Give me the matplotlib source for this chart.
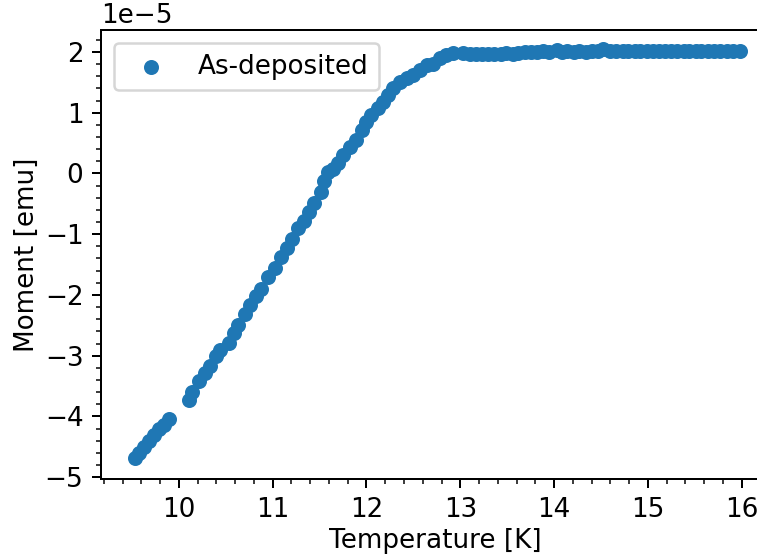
import numpy as np
import matplotlib
matplotlib.use("Agg")
import matplotlib.pyplot as plt

plt.rcParams["font.size"] = 10.5

# Moment vs temperature, as-deposited sample (moment in units of 1e-5 emu)
temperature = [
    9.53, 9.58, 9.63, 9.68, 9.74, 9.79, 9.84, 9.90,
    10.11, 10.14, 10.21, 10.28, 10.33, 10.40, 10.44, 10.53, 10.59, 10.63,
    10.70, 10.76, 10.82, 10.88, 10.95, 11.02, 11.09, 11.15, 11.21, 11.27,
    11.33, 11.39, 11.44, 11.51, 11.55, 11.59, 11.64, 11.70, 11.75, 11.82,
    11.89, 11.95, 12.00, 12.05, 12.12, 12.18, 12.23, 12.28, 12.36, 12.43,
    12.50, 12.57, 12.64, 12.71, 12.78, 12.85, 12.92, 13.03, 13.10, 13.17,
    13.23, 13.30, 13.36, 13.43, 13.49, 13.56, 13.62, 13.69, 13.75, 13.82,
    13.88, 13.95, 14.03, 14.08, 14.14, 14.21, 14.27, 14.34, 14.40, 14.47,
    14.52, 14.60, 14.66, 14.73, 14.79, 14.86, 14.92, 14.99, 15.05, 15.12,
    15.18, 15.25, 15.31, 15.38, 15.44, 15.51, 15.57, 15.64, 15.70, 15.77,
    15.84, 15.91, 15.98,
]
moment = [
    -4.69, -4.60, -4.50, -4.40, -4.31, -4.21, -4.14, -4.05,
    -3.73, -3.60, -3.42, -3.29, -3.17, -3.01, -2.90, -2.79, -2.63, -2.50,
    -2.32, -2.17, -2.01, -1.90, -1.70, -1.55, -1.37, -1.23, -1.08, -0.90,
    -0.79, -0.64, -0.49, -0.31, -0.13, 0.03, 0.08, 0.17, 0.31, 0.44,
    0.55, 0.72, 0.85, 0.96, 1.07, 1.18, 1.29, 1.40, 1.51, 1.57,
    1.62, 1.70, 1.78, 1.80, 1.90, 1.95, 1.98, 1.98, 1.96, 1.96,
    1.97, 1.97, 1.97, 1.97, 1.98, 1.97, 1.98, 2.00, 2.00, 2.00,
    2.01, 2.00, 2.04, 2.00, 2.01, 2.00, 2.01, 2.00, 2.01, 2.01,
    2.05, 2.02, 2.02, 2.02, 2.02, 2.02, 2.02, 2.02, 2.02, 2.02,
    2.02, 2.02, 2.02, 2.02, 2.02, 2.02, 2.02, 2.02, 2.02, 2.02,
    2.02, 2.02, 2.02,
]

T = np.array(temperature)
M = np.array(moment) * 1e-5

fig = plt.figure(figsize=(757 / 180, 557 / 180), dpi=180)
ax = fig.add_axes([0.1334, 0.140, 0.8824, 0.806])

ax.scatter(T, M, s=25, color="C0", label="As-deposited")

ax.set_xlim(9.17, 16.29)
ax.set_ylim(-5.03e-5, 2.36e-5)
ax.minorticks_on()

ax.set_xlabel("Temperature [K]", labelpad=2)
ax.set_ylabel("Moment [emu]", labelpad=2)
ax.legend(loc="upper left")

fig.savefig("out.png", dpi=180)
